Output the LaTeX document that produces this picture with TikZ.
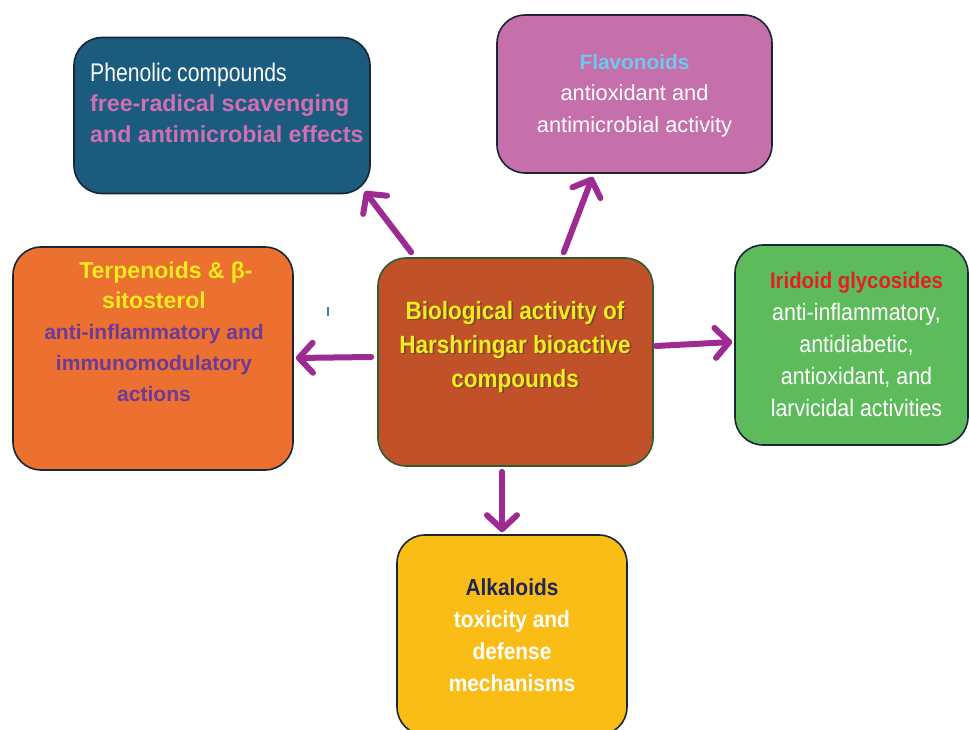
\documentclass[tikz,border=0pt]{standalone}
\usepackage{fontspec}
\setmainfont{Liberation Sans}
\newfontfamily\nfA{Liberation Sans}[FakeStretch=0.83]
\newfontfamily\nfB{Liberation Sans}[FakeStretch=0.9]
\usetikzlibrary{arrows.meta}
\definecolor{phenfill}{HTML}{1B5B7D}
\definecolor{pinktxt}{HTML}{CE70B2}
\definecolor{flavfill}{HTML}{C570AB}
\definecolor{flavtitle}{HTML}{72C8EA}
\definecolor{terpfill}{HTML}{EC7030}
\definecolor{terptitle}{HTML}{F2EC1E}
\definecolor{terptext}{HTML}{6B3A9B}
\definecolor{centerfill}{HTML}{C05128}
\definecolor{centerborder}{HTML}{2E5E30}
\definecolor{centertext}{HTML}{F3EC1E}
\definecolor{iridfill}{HTML}{5DBB5B}
\definecolor{iridtitle}{HTML}{E41E24}
\definecolor{alkfill}{HTML}{F9BD15}
\definecolor{alktitle}{HTML}{1F2556}
\definecolor{arrowc}{HTML}{9D2B91}
\definecolor{boxborder}{HTML}{1A2636}
\definecolor{tickc}{HTML}{3A7FB5}
\tikzset{
  panel/.style={draw=boxborder, line width=1.6pt, rounded corners=28pt, inner sep=0pt},
  arr/.style={draw=arrowc, line width=6pt, line cap=round,
    -{Straight Barb[length=14pt,width=30pt,line width=6pt,line cap=round,line join=round]}},
  txt/.style={align=center, inner sep=0pt},
}
\begin{document}
\begin{tikzpicture}[x=1pt,y=-1pt]
\useasboundingbox (0,0) rectangle (969,730);
\begin{scope}
\clip (0,0) rectangle (969,730);
% boxes
\node[panel, fill=phenfill, minimum width=296pt, minimum height=156pt] (phen) at (222,115.5) {};
\node[panel, fill=flavfill, minimum width=275pt, minimum height=158pt] (flav) at (634.5,94) {};
\node[panel, fill=terpfill, minimum width=280pt, minimum height=223pt] (terp) at (153,358.5) {};
\node[panel, draw=centerborder, fill=centerfill, minimum width=275pt, minimum height=208pt] (center) at (515.5,362) {};
\node[panel, fill=iridfill, minimum width=233pt, minimum height=200pt] (irid) at (851.5,345) {};
\node[panel, fill=alkfill, minimum width=230pt, minimum height=200pt] (alk) at (512,635) {};
\end{scope}
% texts
\node[txt, anchor=west, align=left, text=white, font=\fontsize{23.2}{30.5}\selectfont] (phent) at (90,102.5)
  {{\nfA\fontsize{25.5}{30.5}\selectfont Phenolic compounds}\\
   {\bfseries\color{pinktxt}free-radical scavenging}\\
   {\bfseries\color{pinktxt}and antimicrobial effects}};
\node[txt, text=white, font=\fontsize{21.8}{31.5}\selectfont] (flavt) at (634.5,95.5)
  {{\fontsize{20.8}{31.5}\selectfont\bfseries\color{flavtitle}Flavonoids}\\
   antioxidant and\\ antimicrobial activity};
\node[txt, font=\fontsize{21}{30.8}\selectfont\bfseries] (terpt) at (154,331.5)
  {\hspace*{24pt}{\fontsize{23}{30.8}\selectfont\color{terptitle}Terpenoids \& β-}\\
   {\fontsize{23}{30.8}\selectfont\color{terptitle}sitosterol}\\
   {\color{terptext}anti-inflammatory and}\\
   {\color{terptext}immunomodulatory}\\
   {\color{terptext}actions}};
\node[txt, text=black!75, opacity=0.55, font=\nfB\fontsize{25}{34}\selectfont\bfseries] (centers) at (516.8,348.3)
  {Biological activity of\\ Harshringar bioactive\\ compounds};
\node[txt, text=centertext, font=\nfB\fontsize{25}{34}\selectfont\bfseries] (centert) at (515,347)
  {Biological activity of\\ Harshringar bioactive\\ compounds};
\node[txt, text=white, font=\nfB\fontsize{23.8}{31.8}\selectfont] (iridt) at (856.5,344.5)
  {{\fontsize{22.6}{31.8}\selectfont\bfseries\color{iridtitle}Iridoid glycosides}\\
   anti-inflammatory,\\ antidiabetic,\\ antioxidant, and\\ larvicidal activities};
\node[txt, text=white, font=\nfB\fontsize{23.2}{32}\selectfont\bfseries] (alkt) at (512,635)
  {{\color{alktitle}Alkaloids}\\ toxicity and\\ defense\\ mechanisms};
% stray tick
\coordinate (tickA) at (328,307);
\coordinate (tickB) at (328,316);
\draw[tickc, line width=1.6pt] (tickA) -- (tickB);
% arrows
\draw[arr] ([xshift=34pt,yshift=5pt]center.north west) -- ([xshift=-6pt,yshift=3pt]phen.south east);
\draw[arr] ([xshift=-90pt,yshift=5pt]center.north east) -- ([xshift=-42pt,yshift=-3pt]flav.south);
\draw[arr] ([xshift=-6pt,yshift=5pt]center.west) -- ([xshift=2pt,yshift=0.5pt]terp.east);
\draw[arr] ([xshift=2pt,yshift=16pt]center.east) -- ([xshift=-2pt,yshift=3pt]irid.west);
\draw[arr] ([xshift=-13.5pt,yshift=-5pt]center.south) -- ([xshift=-10pt,yshift=2pt]alk.north);
\end{tikzpicture}
\end{document}
